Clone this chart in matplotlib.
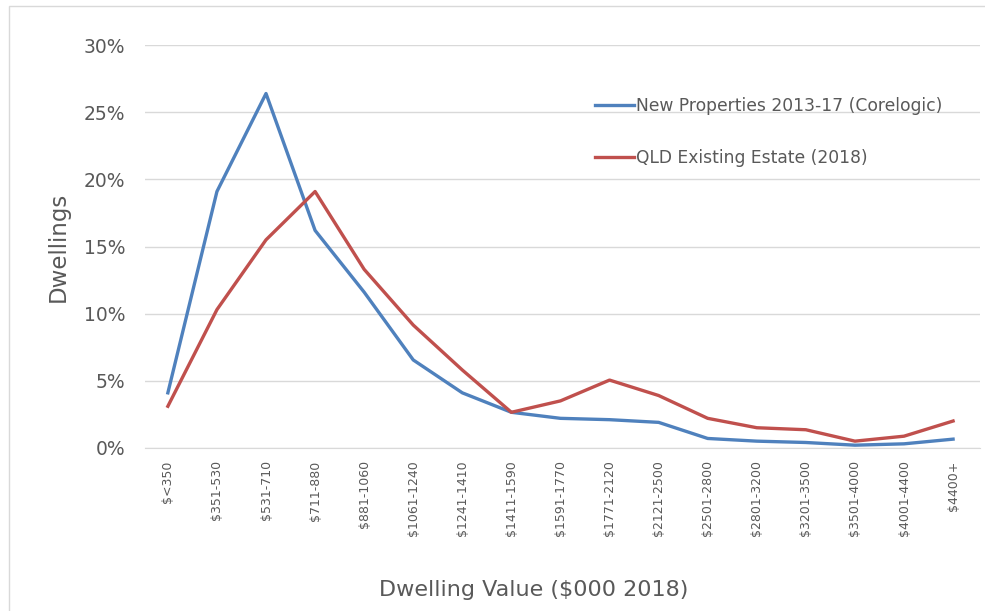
import matplotlib
matplotlib.use("Agg")
import matplotlib.pyplot as plt
from matplotlib.patches import Rectangle
from matplotlib.ticker import PercentFormatter

# categories on the x axis
categories = ["$<350", "$351-530", "$531-710", "$711-880", "$881-1060",
              "$1061-1240", "$1241-1410", "$1411-1590", "$1591-1770",
              "$1771-2120", "$2121-2500", "$2501-2800", "$2801-3200",
              "$3201-3500", "$3501-4000", "$4001-4400", "$4400+"]

# share of dwellings (%)
new_props = [4.1, 19.1, 26.4, 16.2, 11.6, 6.55, 4.1, 2.65, 2.2, 2.1, 1.9,
             0.7, 0.5, 0.4, 0.2, 0.3, 0.65]
qld_existing = [3.1, 10.3, 15.5, 19.1, 13.3, 9.15, 5.8, 2.65, 3.5, 5.05, 3.9,
                2.2, 1.5, 1.35, 0.5, 0.87, 2.0]

series_names = ["New Properties 2013-17 (Corelogic)", "QLD Existing Estate (2018)"]

grey = "#595959"

fig = plt.figure(figsize=(9.85, 6.11), dpi=100)
ax = fig.add_axes([0.147, 0.267, 0.848, 0.659])

x = list(range(len(categories)))
ax.plot(x, new_props, color="#4F81BD", lw=2.4, label=series_names[0])
ax.plot(x, qld_existing, color="#C0504D", lw=2.4, label=series_names[1])

ax.set_ylim(0, 30)
ax.set_xlim(-0.47, 16.55)
ax.set_yticks(range(0, 31, 5))
ax.yaxis.set_major_formatter(PercentFormatter(decimals=0))
ax.grid(axis="y", color="#D9D9D9", lw=1)
ax.set_axisbelow(True)
for s in ["top", "right", "left"]:
    ax.spines[s].set_visible(False)
ax.spines["bottom"].set_color("#D9D9D9")

ax.set_xticks(x)
ax.set_xticklabels(categories, rotation=90, fontsize=9, color=grey)
ax.tick_params(axis="both", length=0)
ax.tick_params(axis="x", pad=9)
ax.tick_params(axis="y", pad=14, labelsize=13.5, labelcolor=grey)

ax.set_ylabel("Dwellings", fontsize=16.5, color=grey, labelpad=10)
ax.set_xlabel("Dwelling Value ($000 2018)", fontsize=16, color=grey)
ax.xaxis.set_label_coords(0.466, -0.353, transform=ax.transAxes)
ax.xaxis.label.set_va("center")

leg = ax.legend(loc="upper left", bbox_to_anchor=(0.52, 0.91), frameon=False,
                prop={"size": 12.3}, handlelength=2.3,
                handletextpad=0.1, labelspacing=2.0, labelcolor=grey)

# thin frame around the chart
fig.patches.append(Rectangle((0.009, -0.01), 1.1, 1.0, transform=fig.transFigure,
                             fill=False, edgecolor="#D9D9D9", lw=1))

fig.savefig("out.png", dpi=100)
